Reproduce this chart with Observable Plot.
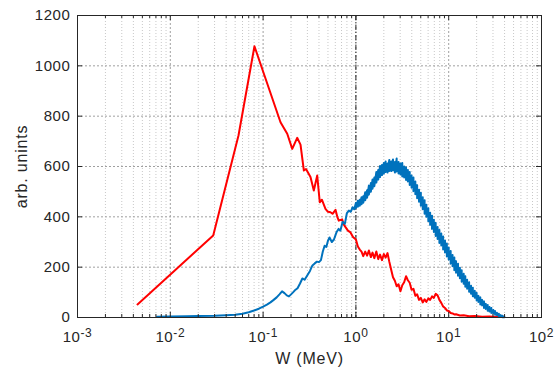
<!DOCTYPE html>
<html><head><meta charset="utf-8">
<script src="https://cdn.jsdelivr.net/npm/d3@7"></script>
<script src="https://cdn.jsdelivr.net/npm/@observablehq/plot@0.6"></script>
<style>body{margin:0;background:#fff} svg{display:block}</style>
</head><body><div id="chart"></div>
<script>
// ---- data ----
const redW = [0.00443,0.029,0.0543,0.0807,0.154,0.182,0.206,0.233,0.253,0.275,0.29,0.324,0.352,0.383,0.408,0.43,0.47,0.50,0.532,0.56,0.603,0.63,0.654,0.71,0.74,0.773,0.82,0.875,0.93,
  1.00,1.05,1.10,1.15,1.20,1.26,1.32,1.38,1.45,1.51,1.58,1.66,1.74,1.82,1.91,2.00,2.09,2.19,2.29,2.40,2.51,2.63,2.75,2.88,3.02,3.16,3.31,3.47,3.63,3.80,3.98,4.17,4.37,4.57,4.79,5.01,5.25,5.50,5.75,6.03,6.31,6.61,6.92,7.24,7.59,7.94,8.32,8.71,9.12,9.55,10.0,10.5,11.0,11.5,12.0,13.2,14.5,16.6,19.1,22.9,27.5,33.1,38.9];
const redV = [52,326,723,1078,776,730,670,714,687,584,590,558,505,564,458,468,432,420,418,412,428,400,385,390,370,359,345,338,320,
  310,282,270,262,244,262,246,266,240,258,236,262,232,250,228,252,238,256,222,190,160,146,124,132,104,128,140,164,148,138,110,114,86,92,70,78,60,72,62,76,70,84,78,94,88,70,58,44,38,28,26,18,16,12,13,8,9,5,6,3,4,2,3];

// blue, smooth low-energy part
const blueW = [0.0072,0.01,0.015,0.02,0.03,0.04,0.05,0.06,0.07,0.08,0.09,0.1,0.11,0.12,0.13,0.14,0.15,0.16,0.17,0.18,0.19,0.2,0.21,0.22,0.235,0.25,0.265,0.28,0.3,0.32,0.34,0.36,0.38,0.4,0.42,0.44,0.46,0.48,0.5,0.52,0.55,0.58,0.62,0.65,0.68,0.72,0.76,0.8,0.84,0.88,0.92,0.96];
const blueV = [3,4,5,6,7,9,11,15,21,28,35,43,51,60,70,80,92,104,97,88,84,92,100,108,116,135,155,150,168,185,207,215,222,220,228,262,285,280,305,318,300,310,340,352,345,380,372,415,425,420,438,430];
// blue, noisy part: per energy bin, upper and lower edge of the noise band
const blueNoisyW = [1.00,1.05,1.10,1.15,1.20,1.26,1.32,1.38,1.45,1.51,1.58,1.66,1.74,1.82,1.91,2.00,2.09,2.19,2.29,2.40,2.51,2.63,2.75,2.88,3.02,3.16,3.31,3.47,3.63,3.80,3.98,4.17,4.37,4.57,4.79,5.01,5.25,5.50,5.75,6.03,6.31,6.61,6.92,7.24,7.59,7.94,8.32,8.71,9.12,9.55,10.0,10.5,11.0,11.5,12.0,12.6,13.2,13.8,14.5,15.1,15.8,16.6,17.4,18.2,19.1,20.0,20.9,21.9,22.9,24.0,25.1,26.3,27.5,28.8,30.2,31.6,33.1,34.7,36.3,38.0,39.8];
const blueHi = [455,464,468,478,482,498,506,524,534,548,556,578,586,602,606,614,620,612,626,620,628,618,632,618,612,614,600,596,586,578,564,556,540,526,508,496,478,466,448,434,416,404,388,376,360,348,334,322,306,294,278,264,248,238,224,214,198,188,174,164,150,140,126,118,106,98,86,80,70,64,54,50,42,38,30,26,19,15,10,7,3];
const blueLo = [435,440,444,450,456,466,476,488,500,512,522,536,548,558,566,572,578,576,582,582,584,576,580,572,568,560,556,546,540,526,516,502,490,474,460,444,430,412,400,382,368,352,340,324,312,296,286,270,258,242,230,214,204,188,178,166,156,142,134,122,114,102,94,84,78,68,62,52,48,38,34,27,24,18,16,11,9,5,4,1,1];

const xTicks = [0.001,0.01,0.1,1,10,100];
const xTickExp = ["-3","-2","-1","0","1","2"];
const yTicks = [0,200,400,600,800,1000,1200];
const xMarker = [1];
const xLabel = "W (MeV)";
const yLabel = "arb. unints";

const red = redW.map((w,i)=>({w, v:redV[i]}));
const blue = blueW.map((w,i)=>({w, v:blueV[i]}));
blueNoisyW.forEach((w,i)=>{ blue.push({w, v:blueHi[i]}); blue.push({w, v:blueLo[i]}); });
const xMinor = xTicks.slice(0,-1).flatMap(t=>[2,3,4,5,6,7,8,9].map(m=>m*t));
const expOf = d => xTickExp[xTicks.findIndex(t => Math.abs(Math.log10(t) - Math.log10(d)) < 1e-6)];

const W = 560, H = 371, mL = 77, mR = 19, mT = 15, mB = 54;
const fw = W-mL-mR, fh = H-mT-mB;
const ink = "#262626";

const chart = Plot.plot({
  width: W, height: H,
  marginLeft: mL, marginRight: mR, marginTop: mT, marginBottom: mB,
  style: {fontFamily: "'Liberation Sans', Arial, sans-serif", color: ink, background: "#fff"},
  x: {type: "log", domain: [1e-3, 1e2]},
  y: {domain: [0, 1200]},
  marks: [
    Plot.ruleX(xMinor, {x: d=>d, stroke: "#c8c8c8", strokeDasharray: "1,2"}),
    Plot.ruleX(xTicks, {x: d=>d, stroke: "#a0a0a0", strokeDasharray: "2,2"}),
    Plot.ruleY(yTicks, {y: d=>d, stroke: "#a0a0a0", strokeDasharray: "2,2"}),
    Plot.ruleX(xMarker, {x: d=>d, stroke: "#222", strokeDasharray: "5,2,1,2"}),
    Plot.line(red, {x: "w", y: "v", stroke: "#ff0000", strokeWidth: 2}),
    Plot.line(blue, {x: "w", y: "v", stroke: "#0072bd", strokeWidth: 2}),
    Plot.frame({stroke: ink}),
    // inward ticks
    Plot.tickX(xTicks, {x: d=>d, stroke: ink, insetTop: fh-5}),
    Plot.tickX(xTicks, {x: d=>d, stroke: ink, insetBottom: fh-5}),
    Plot.tickX(xMinor, {x: d=>d, stroke: ink, insetTop: fh-3}),
    Plot.tickX(xMinor, {x: d=>d, stroke: ink, insetBottom: fh-3}),
    Plot.tickY(yTicks, {y: d=>d, stroke: ink, insetRight: fw-5}),
    Plot.tickY(yTicks, {y: d=>d, stroke: ink, insetLeft: fw-5}),
    Plot.axisX({ticks: xTicks, tickSize: 0, tickPadding: 14, fontSize: 15,
      tickFormat: d => "10^" + expOf(d),
      label: xLabel, labelAnchor: "center", labelArrow: "none", labelOffset: 46}),
    Plot.axisY({ticks: yTicks, tickSize: 0, tickPadding: 7, fontSize: 15,
      tickFormat: d3.format("d"),
      label: yLabel, labelAnchor: "center", labelArrow: "none", labelOffset: 62})
  ]
});

// superscript exponents
d3.select(chart).selectAll('[aria-label="x-axis tick label"] text').each(function(){
  const t = this.textContent;
  const k = t.indexOf("^");
  if (k < 0) return;
  const base = t.slice(0,k), exp = t.slice(k+1);
  const sel = d3.select(this);
  sel.text(null);
  sel.append("tspan").text(base);
  sel.append("tspan").attr("dy","-0.45em").attr("font-size","0.8em").text(exp);
});
d3.select(chart).selectAll('[aria-label="x-axis tick label"] text, [aria-label="y-axis tick label"] text').style("letter-spacing","0.6px");
d3.select(chart).selectAll('[aria-label="x-axis label"] text, [aria-label="y-axis label"] text').attr("font-size", 16).style("letter-spacing","0.8px");

document.getElementById("chart").append(chart);
</script>
</body></html>
